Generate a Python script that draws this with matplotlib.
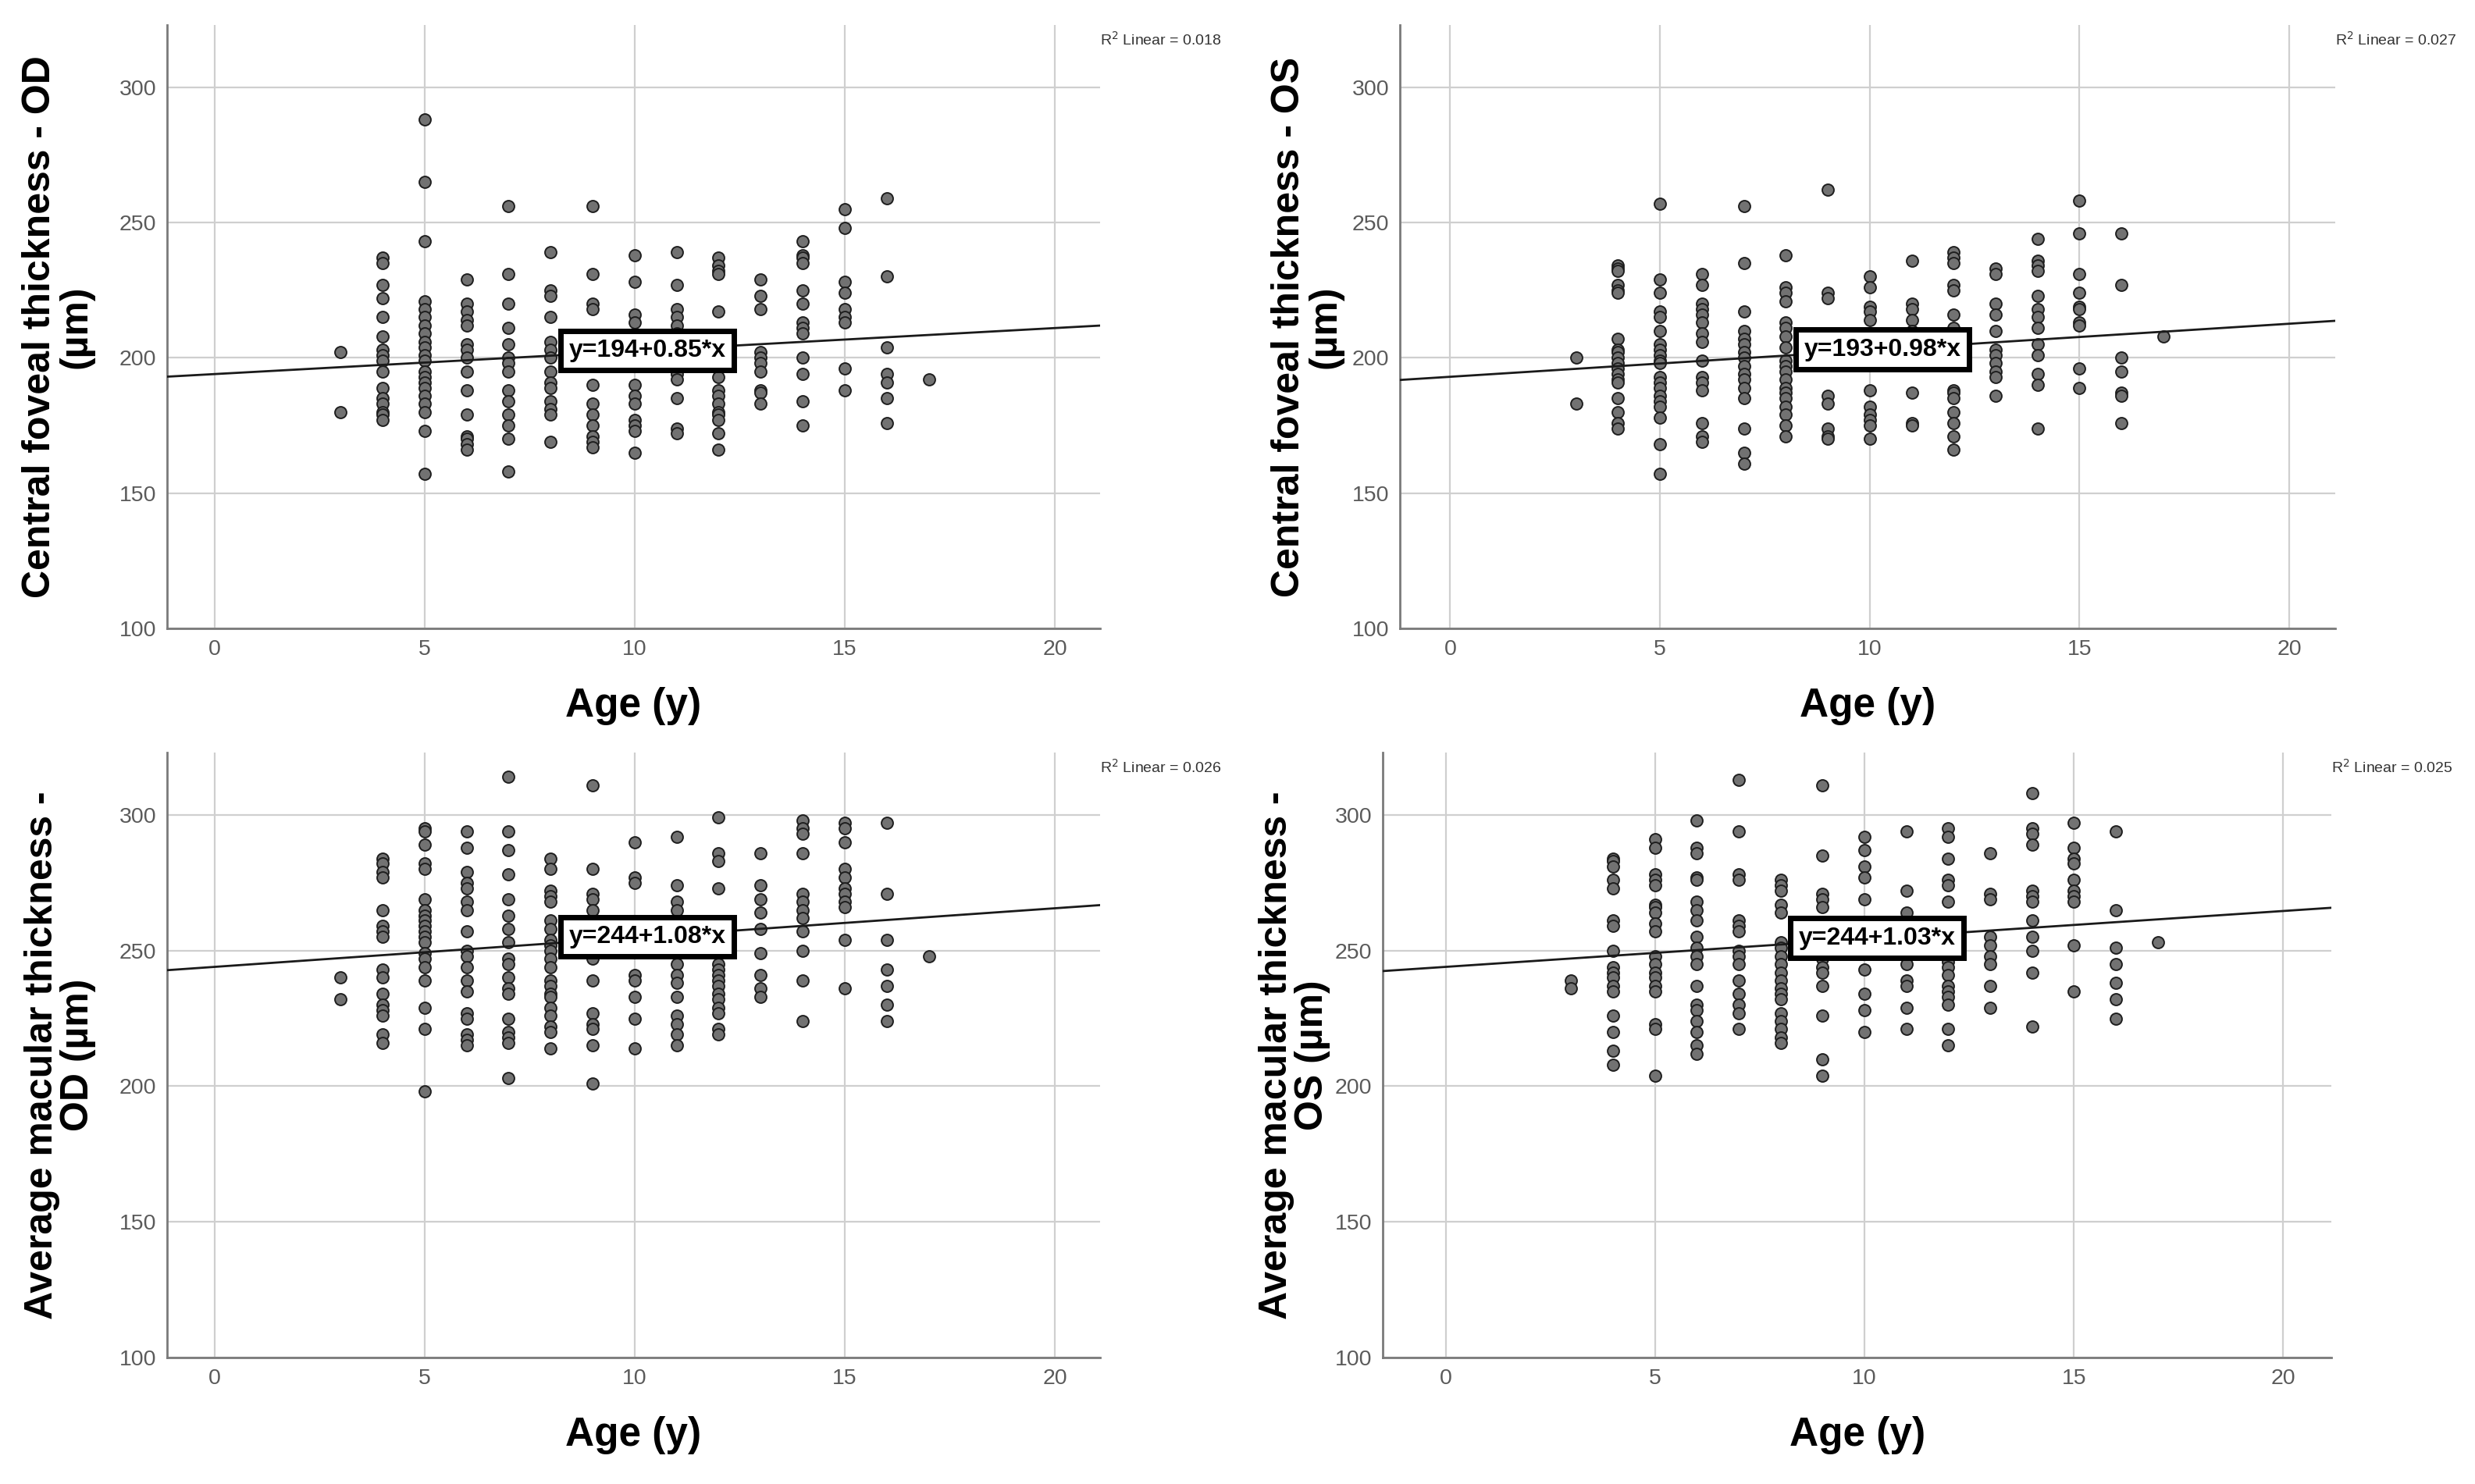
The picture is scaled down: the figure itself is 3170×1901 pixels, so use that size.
import matplotlib
matplotlib.use("Agg")
import matplotlib.pyplot as plt
import numpy as np

# values read per age column (y)
cft_od = {
    3: [202, 180],
    4: [237, 235, 227, 222, 215, 208, 203, 201, 199, 195, 189, 185, 183, 180, 179, 177],
    5: [288, 265, 243, 221, 218, 215, 212, 209, 206, 204, 201, 199, 195, 193, 191, 189, 186, 183, 180, 173, 157],
    6: [229, 220, 217, 214, 212, 205, 203, 200, 195, 188, 179, 171, 170, 168, 166],
    7: [256, 231, 220, 211, 205, 200, 198, 195, 188, 184, 179, 175, 170, 158],
    8: [239, 225, 223, 215, 206, 203, 200, 195, 191, 189, 184, 181, 179, 169],
    9: [256, 231, 220, 218, 208, 190, 183, 179, 175, 171, 169, 167],
    10: [238, 228, 216, 213, 190, 186, 183, 177, 175, 173, 165],
    11: [239, 227, 218, 215, 212, 209, 194, 192, 185, 174, 172],
    12: [237, 234, 232, 231, 217, 193, 188, 186, 183, 180, 179, 177, 172, 166],
    13: [229, 223, 218, 202, 200, 198, 195, 188, 187, 183],
    14: [243, 238, 237, 235, 225, 220, 213, 211, 209, 200, 194, 184, 175],
    15: [255, 248, 228, 224, 218, 215, 213, 196, 188],
    16: [259, 230, 204, 194, 191, 185, 176],
    17: [192],
}

cft_os = {
    3: [200, 183],
    4: [234, 233, 232, 227, 225, 224, 207, 203, 202, 200, 198, 196, 194, 192, 191, 185, 180, 176, 174],
    5: [257, 229, 224, 217, 215, 210, 205, 203, 201, 199, 198, 193, 191, 189, 186, 184, 182, 178, 168, 157],
    6: [231, 227, 220, 218, 216, 213, 209, 206, 199, 193, 191, 188, 176, 171, 169],
    7: [256, 235, 217, 210, 207, 205, 202, 200, 197, 194, 192, 189, 185, 174, 165, 161],
    8: [238, 226, 224, 221, 213, 211, 208, 204, 199, 197, 195, 192, 189, 187, 185, 182, 179, 175, 171],
    9: [262, 224, 222, 186, 183, 174, 171, 170],
    10: [230, 226, 219, 217, 214, 188, 182, 179, 177, 175, 170],
    11: [236, 220, 218, 214, 210, 187, 176, 175],
    12: [239, 237, 235, 227, 225, 216, 211, 188, 187, 185, 180, 176, 171, 166],
    13: [233, 231, 220, 216, 210, 203, 201, 198, 195, 193, 186],
    14: [244, 236, 234, 232, 223, 218, 215, 211, 205, 201, 194, 190, 174],
    15: [258, 246, 231, 224, 219, 218, 213, 212, 196, 189],
    16: [246, 227, 200, 195, 187, 186, 176],
    17: [208],
}

amt_od = {
    3: [240, 232],
    4: [284, 282, 279, 277, 265, 259, 257, 255, 243, 240, 234, 230, 228, 226, 219, 216],
    5: [295, 294, 289, 282, 280, 269, 265, 263, 261, 259, 257, 255, 253, 249, 247, 244, 239, 229, 221, 198],
    6: [294, 288, 279, 275, 273, 268, 265, 257, 250, 248, 244, 239, 235, 227, 225, 219, 217, 215],
    7: [314, 294, 287, 278, 269, 263, 258, 253, 247, 245, 240, 236, 234, 225, 220, 218, 216, 203],
    8: [284, 280, 272, 270, 268, 261, 258, 254, 252, 250, 247, 244, 239, 237, 234, 233, 229, 226, 222, 220, 214],
    9: [311, 280, 271, 269, 265, 247, 239, 227, 223, 221, 215, 201],
    10: [290, 277, 275, 241, 239, 233, 225, 214],
    11: [292, 274, 268, 265, 245, 241, 238, 233, 226, 223, 219, 215],
    12: [299, 286, 283, 273, 245, 243, 241, 239, 237, 234, 232, 229, 227, 221, 219],
    13: [286, 274, 269, 264, 258, 249, 241, 236, 233],
    14: [298, 295, 293, 286, 271, 268, 265, 262, 257, 250, 239, 224],
    15: [297, 295, 290, 280, 277, 273, 271, 268, 266, 254, 236],
    16: [297, 271, 254, 243, 237, 230, 224],
    17: [248],
}

amt_os = {
    3: [239, 236],
    4: [284, 283, 281, 276, 273, 261, 259, 250, 244, 242, 240, 237, 235, 226, 220, 213, 208],
    5: [291, 288, 278, 276, 274, 267, 266, 264, 260, 257, 248, 245, 242, 240, 237, 235, 223, 221, 204],
    6: [298, 288, 286, 277, 276, 268, 265, 261, 255, 251, 248, 245, 237, 230, 228, 224, 220, 215, 212],
    7: [313, 294, 278, 276, 261, 259, 257, 250, 248, 245, 239, 234, 230, 227, 221],
    8: [276, 274, 272, 267, 264, 253, 251, 248, 245, 242, 239, 236, 234, 232, 227, 224, 221, 218, 216],
    9: [311, 285, 271, 269, 266, 247, 244, 242, 237, 226, 210, 204],
    10: [292, 287, 281, 277, 269, 243, 234, 228, 220],
    11: [294, 272, 264, 248, 245, 239, 237, 229, 221],
    12: [295, 292, 284, 276, 274, 268, 246, 244, 241, 237, 235, 233, 230, 221, 215],
    13: [286, 271, 269, 255, 252, 248, 245, 237, 229],
    14: [308, 295, 293, 289, 272, 270, 268, 261, 255, 250, 242, 222],
    15: [297, 288, 284, 282, 276, 272, 270, 268, 252, 235],
    16: [294, 265, 251, 245, 238, 232, 225],
    17: [253],
}

ylabels = ["Central foveal thickness - OD\n(µm)", "Central foveal thickness - OS\n(µm)",
           "Average macular thickness -\nOD (µm)", "Average macular thickness -\nOS (µm)"]
intercepts = [194, 193, 244, 244]
slopes = [0.85, 0.98, 1.08, 1.03]
r2 = ["0.018", "0.027", "0.026", "0.025"]
datasets = [cft_od, cft_os, amt_od, amt_os]

positions = [[0.0675, 0.5765, 0.377, 0.4067],
             [0.5656, 0.5765, 0.378, 0.4067],
             [0.0675, 0.0852, 0.377, 0.4077],
             [0.5587, 0.0852, 0.3833, 0.4077]]
xlims = [(-1.13, 21.08), (-1.2, 21.1), (-1.13, 21.08), (-1.5, 21.15)]
ylab_x = [-0.117, -0.099, -0.115, -0.093]

plt.rcParams['font.family'] = ['Liberation Sans', 'DejaVu Sans']

fig = plt.figure(figsize=(31.7, 19.01), dpi=100)

for i, d in enumerate(datasets):
    ax = fig.add_axes(positions[i])
    ages = np.concatenate([[k] * len(v) for k, v in d.items()])
    vals = np.concatenate([v for v in d.values()])
    ax.set_xlim(*xlims[i])
    ax.set_ylim(100, 323)
    ax.set_xticks([0, 5, 10, 15, 20])
    ax.set_yticks([100, 150, 200, 250, 300])
    ax.grid(True, color="#cfcfcf", lw=1.6)
    ax.set_axisbelow(True)
    for s in ["top", "right"]:
        ax.spines[s].set_visible(False)
    for s in ["left", "bottom"]:
        ax.spines[s].set_color("#7a7a7a")
        ax.spines[s].set_linewidth(2)
    ax.tick_params(length=0, labelsize=20.5, labelcolor="#5a5a5a", pad=10)

    ax.scatter(ages, vals, s=115, c="#727272", edgecolors="#1e1e1e", linewidths=1.4, zorder=3)

    xx = np.array(xlims[i])
    ax.plot(xx, intercepts[i] + slopes[i] * xx, color="#1a1a1a", lw=2, zorder=4)

    xb = 10.3
    ax.text(xb, intercepts[i] + slopes[i] * xb,
            "y={}+{:.2f}*x".format(intercepts[i], slopes[i]),
            ha="center", va="center", fontsize=23, fontweight="bold",
            zorder=6,
            bbox=dict(boxstyle="square,pad=0.32", fc="white", ec="black", lw=5))

    ax.text(1.0, 0.976, "R$^2$ Linear = " + r2[i], transform=ax.transAxes,
            ha="left", va="center", fontsize=14, color="#333333")

    ax.text(0.5, -0.128, "Age (y)", transform=ax.transAxes, ha="center", va="center",
            fontsize=37, fontweight="bold")
    ax.text(ylab_x[i], 0.5, ylabels[i], transform=ax.transAxes, rotation=90,
            ha="center", va="center", fontsize=36, fontweight="bold",
            linespacing=1.0)

fig.savefig("out.png", dpi=100)
